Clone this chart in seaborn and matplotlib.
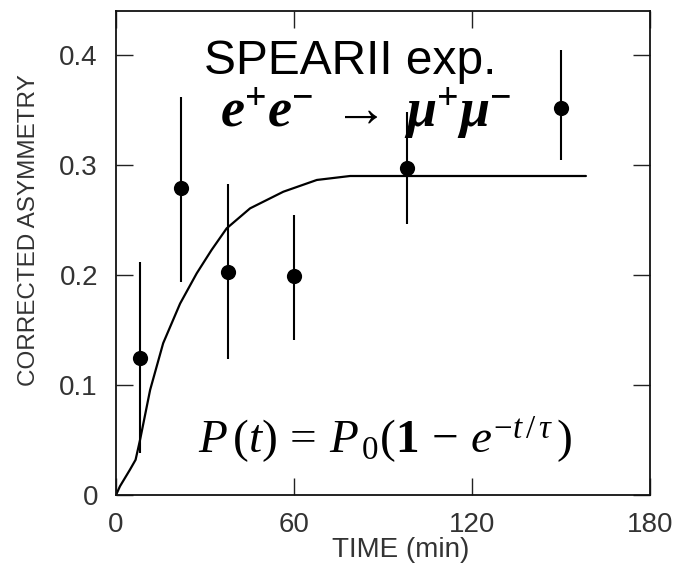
import matplotlib
matplotlib.use("Agg")
import matplotlib.pyplot as plt
import seaborn as sns
import pandas as pd

# ---- data ----
time_min = [8, 22, 37.6, 60, 98, 150]
asymmetry = [0.125, 0.279, 0.203, 0.199, 0.297, 0.352]
err_low = [0.087, 0.085, 0.079, 0.058, 0.051, 0.047]
err_high = [0.087, 0.083, 0.080, 0.056, 0.051, 0.053]

curve_t = [0, 1.35, 4.7, 6.6, 8.1, 11.5, 15.9, 21.6, 27.2, 32.2, 37.3, 45.2,
           56.4, 67.7, 78.9, 95.7, 158.4]
curve_p = [0, 0.008, 0.023, 0.032, 0.05, 0.0955, 0.138, 0.174, 0.2015, 0.2227,
           0.2424, 0.2606, 0.2757, 0.2864, 0.29, 0.29, 0.29]

x_ticks = [0, 60, 120, 180]
y_ticks = [0, 0.1, 0.2, 0.3, 0.4]
y_ticklabels = ["0", "0.1", "0.2", "0.3", "0.4"]

sns.set_theme(style="white")
plt.rcParams["font.family"] = ["Liberation Sans", "DejaVu Sans"]
plt.rcParams["mathtext.fontset"] = "custom"
plt.rcParams["mathtext.rm"] = "Liberation Serif"
plt.rcParams["mathtext.it"] = "Liberation Serif:italic"
plt.rcParams["mathtext.bf"] = "Liberation Serif:bold"
plt.rcParams["mathtext.bfit"] = "Liberation Serif:italic:bold"

fig = plt.figure(figsize=(6.77, 5.68), dpi=100)
ax = fig.add_axes([116 / 677, 1 - 495 / 568, (650 - 116) / 677, (495 - 11) / 568])

pts = pd.DataFrame({"t": time_min, "a": asymmetry})
crv = pd.DataFrame({"t": curve_t, "p": curve_p})

sns.lineplot(data=crv, x="t", y="p", sort=False, estimator=None, color="black",
             linewidth=1.6, ax=ax)
ax.errorbar(time_min, asymmetry, yerr=[err_low, err_high], fmt="none",
            ecolor="black", elinewidth=1.5, capsize=0)
sns.scatterplot(data=pts, x="t", y="a", color="black", s=120, edgecolor="black",
                linewidth=0, ax=ax, zorder=5)

ax.set_xlim(0, 180)
ax.set_ylim(0, 0.44)
ax.set_xticks(x_ticks)
ax.set_xticklabels([str(v) for v in x_ticks])
ax.set_yticks(y_ticks)
ax.set_yticklabels(y_ticklabels)
ax.tick_params(direction="in", length=12, width=1.0, color="#222222",
               top=True, right=True, bottom=True, left=True,
               labelsize=20, labelcolor="#333333")
ax.tick_params(axis="y", pad=13)
ax.tick_params(axis="x", pad=12)
for s in ax.spines.values():
    s.set_color("#111111")
    s.set_linewidth(1.3)

ax.set_xlabel("TIME (min)", fontsize=20, color="#333333")
ax.xaxis.set_label_coords((401 - 116) / 534, (495 - 537) / 484)
ax.set_ylabel("CORRECTED ASYMMETRY", fontsize=17.5, color="#333333")
ax.yaxis.set_label_coords((40 - 116) / 534, (495 - 230) / 484)

ax.text((350 - 116) / 534, (495 - 61) / 484, "SPEARII exp.", transform=ax.transAxes,
        ha="center", va="center", fontsize=34.5, color="black",
        family=["Liberation Sans", "DejaVu Sans"])
ax.text((366 - 116) / 534, (495 - 113) / 484,
        r"$\mathbfit{e}^{\mathbf{+}}\mathbfit{e}^{\mathbf{-}}\;\mathbf{\rightarrow}\;\mathbfit{\mu}^{\mathbf{+}}\mathbfit{\mu}^{\mathbf{-}}$",
        transform=ax.transAxes, ha="center", va="center", fontsize=39, color="black")
ax.text((385 - 116) / 534, (495 - 440) / 484,
        r"$P\,(t)\,=\,P_{\,0}(\mathbf{1}\,-\,e^{-t\,/\,\tau}\,)$",
        transform=ax.transAxes, ha="center", va="center", fontsize=34, color="black")

fig.savefig("out.png", dpi=100)
